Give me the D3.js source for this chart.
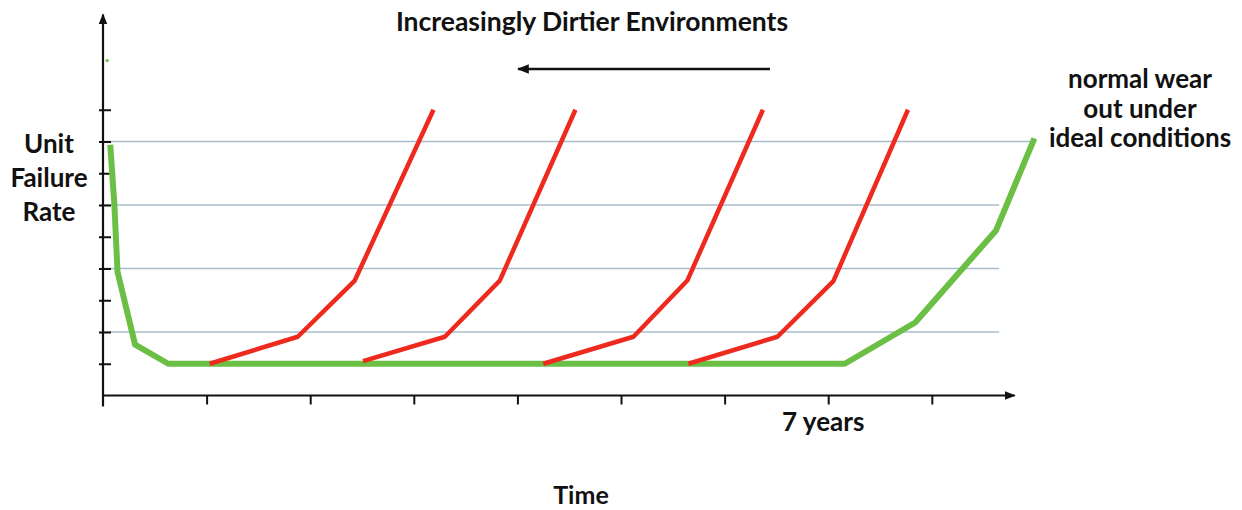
<!DOCTYPE html>
<html>
<head>
<meta charset="utf-8">
<script src="https://cdn.jsdelivr.net/npm/d3@7"></script>
<style>
    body{margin:0;background:#fff;}
    .lbl{font-family:Lato,"Open Sans",sans-serif;font-weight:bold;fill:#111;}
</style>
</head>
<body>
<div id="chart"></div>
<script>
// ******************* data section ******************
// x in years, y in failure-rate tick levels
var xTicks=[0,1,2,3,4,5,6,7,8];
var yTicks=[1,2,3,4,5,6,7,8,9];
var gridLevels=[2,4,6,8];
var gridEnds=[8.65,8.65,8.65,8.95];
var xTickLabel={7:"7 years"};
var idealCurve=[[0.07,7.9],[0.11,6.0],[0.14,3.9],[0.31,1.6],[0.63,1.0],[7.16,1.0],[7.84,2.3],[8.62,5.2],[8.99,8.1]];
var dirtyCurves=[
    [[1.03,1.0],[1.88,1.85],[2.43,3.62],[3.19,9.0]],
    [[2.51,1.08],[3.30,1.85],[3.83,3.62],[4.56,9.0]],
    [[4.25,1.0],[5.12,1.85],[5.64,3.62],[6.37,9.0]],
    [[5.65,1.0],[6.51,1.85],[7.05,3.6],[7.77,9.0]]
];
var strayDot=[0.04,10.55];
var yLabel=["Unit","Failure","Rate"];
var noteLabel=["normal wear","out under","ideal conditions"];
// ************ end of data section ***********

var width=1242, height=510;
var x=d3.scaleLinear().domain([0,8.8]).range([103,1014.7]);
var y=d3.scaleLinear().domain([0,12]).range([395.5,14.5]);

var svg=d3.select("#chart").append("svg")
    .attr("width",width).attr("height",height);

var defs=svg.append("defs");
defs.append("marker")
    .attr("id","ah")
    .attr("viewBox","0 0 10 10")
    .attr("refX",9).attr("refY",5)
    .attr("markerWidth",5).attr("markerHeight",5)
    .attr("markerUnits","strokeWidth")
    .attr("orient","auto")
    .append("path").attr("d","M0,1 L10,5 L0,9 Z").attr("fill","#111");

// gridlines
svg.append("g").selectAll("line")
    .data(gridLevels)
    .enter().append("line")
    .attr("x1",x(0)).attr("x2",function(d,i){return x(gridEnds[i]);})
    .attr("y1",function(d){return y(d);}).attr("y2",function(d){return y(d);})
    .attr("stroke","#a9bccb").attr("stroke-width",1.5);

// axes
var xAxis=d3.axisBottom(x).tickValues(xTicks.slice(1)).tickSize(9).tickFormat("");
var gx=svg.append("g").attr("transform","translate(0,"+y(0)+")").call(xAxis);
gx.select(".domain").remove();
gx.selectAll(".tick line").attr("stroke","#111").attr("stroke-width",2);

var yAxis=d3.axisLeft(y).tickValues(yTicks).tickSize(12).tickFormat("");
var gy=svg.append("g").attr("transform","translate(6,0)").call(yAxis);
gy.select(".domain").remove();
gy.selectAll(".tick line").attr("transform","translate("+(x(0)-6)+",0)").attr("x1",-4).attr("x2",8)
    .attr("stroke","#111").attr("stroke-width",2);

svg.append("line")
    .attr("x1",x(0)).attr("x2",x(8.8))
    .attr("y1",y(0)).attr("y2",y(0))
    .attr("stroke","#111").attr("stroke-width",2.2)
    .attr("marker-end","url(#ah)");
svg.append("line")
    .attr("x1",x(0)).attr("x2",x(0))
    .attr("y1",y(-0.35)).attr("y2",y(12))
    .attr("stroke","#111").attr("stroke-width",2.2)
    .attr("marker-end","url(#ah)");

// curves
var line=d3.line().x(function(d){return x(d[0]);}).y(function(d){return y(d[1]);});
svg.append("path")
    .datum(idealCurve)
    .attr("d",line)
    .attr("fill","none").attr("stroke","#6cbf45").attr("stroke-width",6)
    .attr("stroke-linejoin","round");
svg.append("g").selectAll("path")
    .data(dirtyCurves)
    .enter().append("path")
    .attr("d",line)
    .attr("fill","none").attr("stroke","#ee2a1f").attr("stroke-width",4.5)
    .attr("stroke-linejoin","round");
svg.append("circle")
    .attr("cx",x(strayDot[0])).attr("cy",y(strayDot[1])).attr("r",1.6)
    .attr("fill","#6cbf45");

// texts
svg.append("text").attr("class","lbl")
    .attr("x",592).attr("y",31).attr("text-anchor","middle")
    .style("font-size","26.5px")
    .text("Increasingly Dirtier Environments");
svg.append("line")
    .attr("x1",770).attr("x2",518)
    .attr("y1",69).attr("y2",69)
    .attr("stroke","#111").attr("stroke-width",2.4)
    .attr("marker-end","url(#ah)");

svg.append("g").selectAll("text")
    .data(yLabel)
    .enter().append("text").attr("class","lbl")
    .attr("x",49).attr("y",function(d,i){return 153+i*34;})
    .attr("text-anchor","middle").style("font-size","26px")
    .text(function(d){return d;});

svg.append("g").selectAll("text")
    .data(noteLabel)
    .enter().append("text").attr("class","lbl")
    .attr("x",1140).attr("y",function(d,i){return 88+i*29.5;})
    .attr("text-anchor","middle").style("font-size","26px")
    .text(function(d){return d;});

svg.append("g").selectAll("text")
    .data(Object.keys(xTickLabel))
    .enter().append("text").attr("class","lbl")
    .attr("x",function(d){return x(+d)-5;}).attr("y",431)
    .attr("text-anchor","middle").style("font-size","26px")
    .text(function(d){return xTickLabel[d];});

svg.append("text").attr("class","lbl")
    .attr("x",581).attr("y",504).attr("text-anchor","middle")
    .style("font-size","25px")
    .text("Time");
</script>
</body>
</html>
